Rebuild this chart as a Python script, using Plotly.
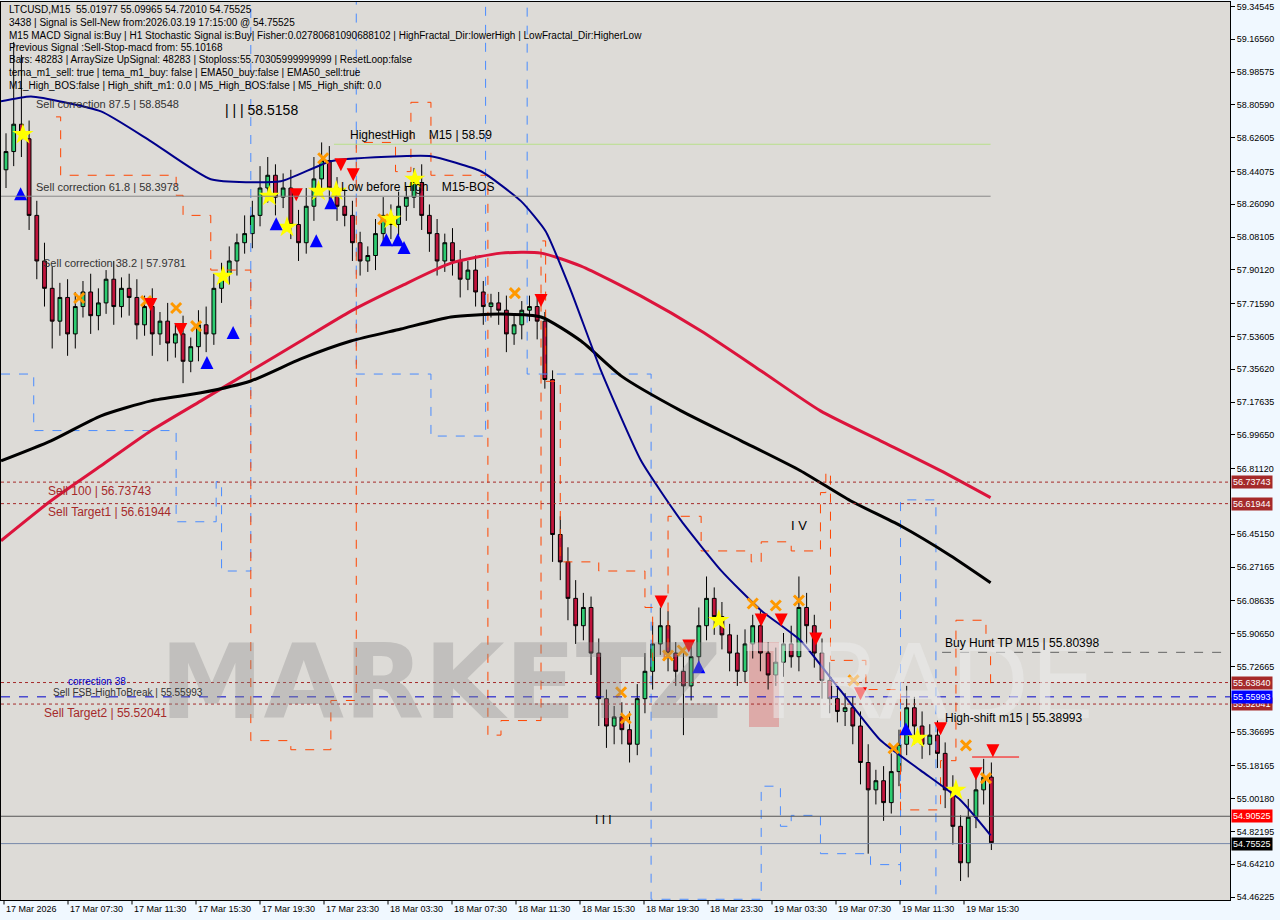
import plotly.graph_objects as go

# ---------------------------------------------------------------------------
# Data (30 min bars, LTCUSD)
# ---------------------------------------------------------------------------
closes = [58.55, 58.70, 58.62, 58.20, 57.95, 57.80, 57.62, 57.75, 57.55, 57.70,
          57.78, 57.65, 57.72, 57.85, 57.70, 57.80, 57.75, 57.60, 57.70, 57.55,
          57.62, 57.50, 57.55, 57.40, 57.48, 57.60, 57.55, 57.80, 57.88, 57.95,
          58.05, 58.10, 58.20, 58.35, 58.42, 58.30, 58.35, 58.15, 58.05, 58.25,
          58.40, 58.50, 58.35, 58.25, 58.20, 58.05, 57.95, 57.98, 58.10, 58.20,
          58.15, 58.25, 58.30, 58.38, 58.20, 58.10, 57.95, 58.05, 57.95, 57.85,
          57.90, 57.78, 57.70, 57.72, 57.68, 57.55, 57.60, 57.68, 57.70, 57.62,
          57.30, 56.45, 56.30, 56.10, 55.95, 56.05, 55.80, 55.55, 55.40, 55.45,
          55.38, 55.30, 55.55, 55.70, 55.85, 55.95, 55.80, 55.70, 55.62, 55.78,
          55.95, 56.10, 56.00, 55.90, 55.80, 55.70, 55.85, 55.95, 55.80, 55.68,
          55.75, 55.85, 55.78, 56.05, 55.95, 55.80, 55.65, 55.55, 55.48, 55.50,
          55.40, 55.20, 55.05, 55.10, 54.98, 55.15, 55.30, 55.50, 55.40, 55.30,
          55.35, 55.25, 55.05, 54.85, 54.65, 54.90, 55.05, 55.12, 54.76]
opens = [58.45] + closes[:-1]
wick_hi = [0.10, 0.45, 0.38, 0.10, 0.08, 0.10, 0.12, 0.08, 0.10, 0.08,
           0.06, 0.10, 0.08, 0.05, 0.10, 0.06, 0.08, 0.10, 0.06, 0.10,
           0.05, 0.10, 0.06, 0.10, 0.05, 0.08, 0.10, 0.08, 0.06, 0.08,
           0.05, 0.10, 0.08, 0.12, 0.10, 0.06, 0.08, 0.10, 0.08, 0.10,
           0.12, 0.10, 0.08, 0.06, 0.10, 0.08, 0.06, 0.05, 0.08, 0.10,
           0.06, 0.08, 0.06, 0.08, 0.10, 0.06, 0.08, 0.05, 0.08, 0.06,
           0.05, 0.08, 0.06, 0.05, 0.06, 0.08, 0.06, 0.05, 0.06, 0.05,
           0.05, 0.05, 0.10, 0.08, 0.10, 0.08, 0.06, 0.08, 0.05, 0.06,
           0.08, 0.10, 0.08, 0.10, 0.12, 0.10, 0.08, 0.06, 0.10, 0.08,
           0.10, 0.12, 0.06, 0.08, 0.06, 0.10, 0.08, 0.06, 0.08, 0.06,
           0.08, 0.06, 0.10, 0.17, 0.08, 0.06, 0.08, 0.10, 0.06, 0.08,
           0.06, 0.08, 0.10, 0.06, 0.08, 0.10, 0.08, 0.12, 0.06, 0.08,
           0.06, 0.08, 0.06, 0.08, 0.06, 0.10, 0.08, 0.10, 0.08]
wick_lo = [0.10, 0.08, 0.10, 0.08, 0.10, 0.10, 0.15, 0.08, 0.12, 0.08,
           0.06, 0.10, 0.08, 0.06, 0.10, 0.06, 0.10, 0.08, 0.06, 0.12,
           0.06, 0.10, 0.08, 0.12, 0.06, 0.08, 0.10, 0.06, 0.08, 0.06,
           0.08, 0.06, 0.08, 0.06, 0.08, 0.10, 0.06, 0.08, 0.10, 0.06,
           0.08, 0.06, 0.10, 0.08, 0.06, 0.10, 0.08, 0.06, 0.08, 0.06,
           0.08, 0.06, 0.08, 0.06, 0.08, 0.10, 0.08, 0.06, 0.08, 0.10,
           0.06, 0.08, 0.10, 0.06, 0.08, 0.10, 0.06, 0.08, 0.06, 0.10,
           0.05, 0.15, 0.10, 0.12, 0.10, 0.08, 0.12, 0.15, 0.12, 0.10,
           0.08, 0.10, 0.06, 0.08, 0.10, 0.06, 0.10, 0.08, 0.27, 0.08,
           0.06, 0.08, 0.10, 0.08, 0.10, 0.08, 0.06, 0.08, 0.10, 0.08,
           0.06, 0.08, 0.06, 0.08, 0.10, 0.08, 0.10, 0.08, 0.06, 0.08,
           0.10, 0.12, 0.35, 0.08, 0.10, 0.06, 0.08, 0.06, 0.10, 0.08,
           0.06, 0.08, 0.10, 0.10, 0.10, 0.08, 0.06, 0.08, 0.04]
highs = [max(o, c) + w for o, c, w in zip(opens, closes, wick_hi)]
lows = [min(o, c) - w for o, c, w in zip(opens, closes, wick_lo)]
bars = list(range(len(closes)))

# moving averages (bar index, price)
ema_x = [-0.65, 3.25, 12.34, 18.83, 26.6, 35.7, 42.2, 51.3, 55.2, 61.7, 66.9, 70.1,
         73.4, 77.3, 82.5, 87.7, 92.9, 98.1, 103.2, 108.4, 113.6, 118.8, 124.0, 127.9]
ema_y = [58.825, 58.852, 58.770, 58.606, 58.398, 58.387, 58.497, 58.524, 58.524,
         58.442, 58.278, 58.113, 57.785, 57.347, 56.854, 56.526, 56.252, 56.033,
         55.869, 55.595, 55.322, 55.157, 54.993, 54.801]
red_x = [-0.65, 5.84, 12.34, 18.83, 25.32, 31.8, 38.3, 44.8, 51.3, 57.8, 64.3, 69.5,
         74.7, 82.5, 90.3, 98.1, 105.8, 113.6, 121.4, 127.9]
red_y = [56.416, 56.635, 56.827, 57.019, 57.183, 57.347, 57.511, 57.675, 57.812,
         57.938, 57.993, 57.993, 57.922, 57.757, 57.566, 57.347, 57.128, 56.964,
         56.800, 56.652]
blk_x = [-0.65, 5.84, 12.34, 18.83, 25.32, 31.8, 38.3, 44.8, 51.3, 57.8, 64.3, 69.5,
         74.7, 79.9, 87.7, 95.5, 103.2, 109.7, 116.2, 122.7, 127.9]
blk_y = [56.854, 56.964, 57.101, 57.183, 57.227, 57.292, 57.413, 57.511, 57.577,
         57.643, 57.659, 57.643, 57.511, 57.320, 57.128, 56.964, 56.800, 56.635,
         56.498, 56.334, 56.186]

# fractal bands (stepped)
org_x = [6.5, 7.1, 22.1, 23.0, 26.6, 31.8, 31.8, 37.0, 42.2, 45.5, 45.5, 50.6, 52.6,
         55.2, 62.6, 62.6, 64.3, 69.5, 70.1, 72.0, 77.0, 83.0, 84.0, 85.5, 86.0,
         90.3, 96.8, 98.1, 102.0, 105.8, 106.5, 107.1, 111.7, 116.2, 116.2, 121.4,
         123.4, 127.3, 127.9]
org_y = [58.74, 58.42, 58.31, 58.20, 57.90, 57.75, 55.32, 55.27, 55.54, 55.54, 58.60,
         58.44, 58.82, 58.42, 58.22, 55.35, 55.43, 58.06, 57.29, 56.30, 56.25, 56.05,
         55.76, 55.80, 56.55, 56.36, 56.30, 56.41, 56.36, 56.68, 56.79, 55.76, 55.60,
         55.60, 54.94, 55.21, 55.98, 55.87, 55.60]
blu_x = [-0.65, 1.95, 3.6, 21.4, 22.1, 26.0, 27.3, 28.0, 31.2, 31.8, 31.8, 45.5,
         53.9, 55.2, 62.3, 62.3, 67.7, 83.8, 83.8, 98.1, 100.6, 102.0, 105.8, 112.3,
         116.2, 116.2, 120.8, 120.8]
blu_y = [57.33, 57.33, 57.02, 57.02, 56.52, 56.52, 56.74, 56.25, 56.25, 56.31, 59.40,
         57.33, 57.33, 56.99, 56.99, 59.40, 57.33, 57.33, 54.45, 55.07, 54.85, 54.91,
         54.70, 54.64, 54.53, 56.64, 56.64, 54.45]

# signal markers (bar index, price)
dn_x = [18.8, 22.7, 37.7, 43.5, 45.1, 69.5, 85.1, 88.7, 98.1, 100.7, 105.2, 111.0,
        121.4, 126.0, 128.2]
dn_y = [57.675, 57.539, 58.278, 58.442, 58.387, 57.697, 56.044, 55.803, 55.946,
        55.946, 55.842, 55.541, 55.349, 55.103, 55.229]
up_x = [1.9, 26.1, 29.5, 35.1, 40.3, 42.2, 49.4, 50.9, 51.7, 90.0, 116.9]
up_y = [58.354, 57.429, 57.593, 58.190, 58.097, 58.305, 58.102, 58.102, 58.059,
        55.760, 55.420]
x_x = [9.5, 18.2, 22.1, 24.7, 41.2, 49.0, 66.1, 79.9, 80.5, 86.0, 87.9, 97.0, 100.0,
       103.0, 110.1, 115.3, 124.7, 127.3]
x_y = [57.747, 57.730, 57.692, 57.593, 58.513, 58.179, 57.774, 55.585, 55.442,
       55.787, 55.814, 56.072, 56.061, 56.088, 55.650, 55.278, 55.294, 55.114]
star_x = [2.2, 28.2, 34.2, 36.5, 40.6, 42.9, 50.0, 53.1, 92.6, 118.4, 123.4]
star_y = [58.644, 57.867, 58.305, 58.135, 58.332, 58.332, 58.179, 58.398, 55.979,
          55.333, 55.048]

price_ticks = [59.34545, 59.16560, 58.98575, 58.80590, 58.62605, 58.44075, 58.26090,
               58.08105, 57.90120, 57.71590, 57.53605, 57.35620, 57.17635, 56.99650,
               56.81120, 56.45150, 56.27165, 56.08635, 55.90650, 55.72665, 55.36695,
               55.18165, 55.00180, 54.82195, 54.64210, 54.46225]
time_labels = ["17 Mar 2026", "17 Mar 07:30", "17 Mar 11:30", "17 Mar 15:30",
               "17 Mar 19:30", "17 Mar 23:30", "18 Mar 03:30", "18 Mar 07:30",
               "18 Mar 11:30", "18 Mar 15:30", "18 Mar 19:30", "18 Mar 23:30",
               "19 Mar 03:30", "19 Mar 07:30", "19 Mar 11:30", "19 Mar 15:30"]

# levels: (price, line colour, line dash, boxed label colour)
levels = [(56.73743, "#a52a2a", "dot", "#a52a2a"), (56.61944, "#a52a2a", "dot", "#a52a2a"),
          (55.63840, "#a52a2a", "dot", "#a52a2a"), (55.52041, "#a52a2a", "dot", "#a52a2a"),
          (55.55993, "#0000cc", "dash", "#0000ff"), (54.90525, "#555555", "solid", "#ff0000"),
          (54.75525, "#7788aa", "solid", "#000000")]

header = [
    "LTCUSD,M15  55.01977 55.09965 54.72010 54.75525",
    "3438 | Signal is Sell-New from:2026.03.19 17:15:00 @ 54.75525",
    "M15 MACD Signal is:Buy | H1 Stochastic Signal is:Buy| Fisher:0.02780681090688102 | HighFractal_Dir:lowerHigh | LowFractal_Dir:HigherLow",
    "Previous Signal :Sell-Stop-macd from: 55.10168",
    "Bars: 48283 | ArraySize UpSignal: 48283 | Stoploss:55.70305999999999 | ResetLoop:false",
    "tema_m1_sell: true | tema_m1_buy: false | EMA50_buy:false | EMA50_sell:true",
    "M1_High_BOS:false | High_shift_m1: 0.0 | M5_High_BOS:false | M5_High_shift: 0.0",
]

# ---------------------------------------------------------------------------
W_PLOT, H_PLOT = 1229, 898
FONT = "Liberation Sans"

fig = go.Figure()

fig.add_trace(go.Scatter(x=blu_x, y=blu_y, mode="lines", line_shape="hv",
                         line=dict(color="#4a8cff", width=1, dash="dash")))
fig.add_trace(go.Scatter(x=org_x, y=org_y, mode="lines", line_shape="hv",
                         line=dict(color="#ff4500", width=1, dash="dash")))
fig.add_trace(go.Scatter(x=red_x, y=red_y, mode="lines", line_shape="spline",
                         line=dict(color="#dc143c", width=3, smoothing=0.6)))
fig.add_trace(go.Scatter(x=blk_x, y=blk_y, mode="lines", line_shape="spline",
                         line=dict(color="#000000", width=3, smoothing=0.6)))
fig.add_trace(go.Scatter(x=ema_x, y=ema_y, mode="lines", line_shape="spline",
                         line=dict(color="#00008b", width=2, smoothing=0.5)))

fig.add_trace(go.Candlestick(
    x=bars, open=opens, high=highs, low=lows, close=closes,
    increasing=dict(fillcolor="#2ecc71", line=dict(color="#000000", width=1)),
    decreasing=dict(fillcolor="#c0143c", line=dict(color="#000000", width=1)),
    whiskerwidth=0,
))

fig.add_trace(go.Scatter(x=x_x, y=x_y, mode="markers",
                         marker=dict(symbol="x-thin", size=10, color="#ff9900",
                                     line=dict(color="#ff9900", width=3))))
fig.add_trace(go.Scatter(x=star_x, y=star_y, mode="markers",
                         marker=dict(symbol="star", size=16, color="#ffff00")))
fig.add_trace(go.Scatter(x=dn_x, y=dn_y, mode="markers",
                         marker=dict(symbol="arrow-down", size=13, color="#ff0000")))
fig.add_trace(go.Scatter(x=up_x, y=up_y, mode="markers",
                         marker=dict(symbol="arrow-up", size=13, color="#0000ff")))

# horizontal levels
for p, col, dash, box in levels:
    fig.add_shape(type="line", xref="paper", x0=0, x1=1, y0=p, y1=p,
                  line=dict(color=col, width=1, dash=dash))
    fig.add_annotation(xref="paper", x=1.001, y=p, xanchor="left", yanchor="middle",
                       text=f"{p:.5f}", showarrow=False, bgcolor=box,
                       font=dict(color="white", size=9, family=FONT),
                       borderpad=1)
fig.add_shape(type="line", x0=42.6, x1=127.9, y0=58.59, y1=58.59,
              line=dict(color="#b8e08a", width=1))
fig.add_shape(type="line", x0=-0.65, x1=127.9, y0=58.305, y1=58.305,
              line=dict(color="#888888", width=1))
fig.add_shape(type="line", xref="x", x0=121.6, x1=159, y0=55.80398, y1=55.80398,
              line=dict(color="#666666", width=1, dash="dash"))
fig.add_shape(type="line", x0=125.5, x1=131.6, y0=55.23, y1=55.23,
              line=dict(color="#ff0000", width=1))

# watermark
fig.add_annotation(xref="paper", yref="paper", x=440 / W_PLOT, y=1 - 680 / H_PLOT,
                   text="<b>MARKETZ</b>", showarrow=False, xanchor="center", yanchor="middle",
                   font=dict(size=104, color="rgba(140,140,140,0.35)", family="DejaVu Sans"))
fig.add_annotation(xref="paper", yref="paper", x=920 / W_PLOT, y=1 - 680 / H_PLOT,
                   text="TRADE", showarrow=False, xanchor="center", yanchor="middle",
                   font=dict(size=104, color="rgba(235,235,235,0.55)", family="DejaVu Sans"))
fig.add_shape(type="rect", xref="paper", yref="paper",
              x0=748 / W_PLOT, x1=778 / W_PLOT, y0=1 - 725 / H_PLOT, y1=1 - 640 / H_PLOT,
              fillcolor="rgba(220,80,80,0.35)", line_width=0, layer="below")

# header text
for k, line in enumerate(header):
    fig.add_annotation(xref="paper", yref="paper", x=6 / W_PLOT, y=1 - (8 + 12.5 * k) / H_PLOT,
                       xanchor="left", yanchor="middle", text=line, showarrow=False,
                       font=dict(size=10, color="#000000", family=FONT))

labels = [
    (33, 102, "Sell correction 87.5 | 58.8548", 11, "#333333"),
    (222, 108, "| | | 58.5158", 14, "#000000"),
    (347, 133, "HighestHigh    M15 | 58.59", 12, "#000000"),
    (33, 185, "Sell correction 61.8 | 58.3978", 11, "#333333"),
    (338, 185, "Low before High    M15-BOS", 12, "#000000"),
    (40, 261, "Sell correction 38.2 | 57.9781", 11, "#333333"),
    (45, 489, "Sell 100 | 56.73743", 12, "#a52a2a"),
    (45, 510, "Sell Target1 | 56.61944", 12, "#a52a2a"),
    (65, 679, "correction 38", 10, "#0000cc"),
    (50, 690, "Sell FSB-HighToBreak | 55.55993", 10, "#333333"),
    (41, 711, "Sell Target2 | 55.52041", 12, "#a52a2a"),
    (788, 523, "I V", 13, "#000000"),
    (592, 818, "I I I", 12, "#000000"),
    (942, 641, "Buy Hunt TP M15 | 55.80398", 12, "#000000"),
    (942, 716, "High-shift m15 | 55.38993", 12, "#000000"),
]
for px, py, t, s, c in labels:
    fig.add_annotation(xref="paper", yref="paper", x=px / W_PLOT, y=1 - py / H_PLOT,
                       xanchor="left", yanchor="middle", text=t, showarrow=False,
                       font=dict(size=s, color=c, family=FONT))

# time axis labels
for k, t in enumerate(time_labels):
    fig.add_annotation(xref="paper", yref="paper", x=(3 + 64 * k) / W_PLOT, y=0,
                       xanchor="left", yanchor="top", yshift=-2, text=t, showarrow=False,
                       font=dict(size=9, color="#000000", family=FONT))
    fig.add_shape(type="line", xref="paper", yref="paper",
                  x0=(3 + 64 * k) / W_PLOT, x1=(3 + 64 * k) / W_PLOT, y0=0, y1=-0.005,
                  line=dict(color="black", width=1))

fig.update_layout(
    width=1280, height=920,
    margin=dict(l=1, r=50, t=2, b=20, autoexpand=False),
    paper_bgcolor="#f0f8ff", plot_bgcolor="#dddbd7",
    showlegend=False,
    font=dict(family=FONT, size=10, color="#000000"),
)
fig.update_xaxes(range=[-0.65, 159.0], showgrid=False, zeroline=False,
                 showticklabels=False, rangeslider_visible=False, automargin=False,
                 showline=True, linecolor="black", mirror=True)
fig.update_yaxes(range=[54.446, 59.37], side="right", showgrid=False, zeroline=False,
                 tickvals=price_ticks, ticktext=[f"{v:.5f}" for v in price_ticks],
                 ticks="outside", ticklen=4, tickcolor="black", automargin=False,
                 tickfont=dict(size=9, family=FONT),
                 showline=True, linecolor="black", mirror=True)

fig.write_html("out.html", config={"displayModeBar": False},
               post_script="document.body.style.margin='0';")
